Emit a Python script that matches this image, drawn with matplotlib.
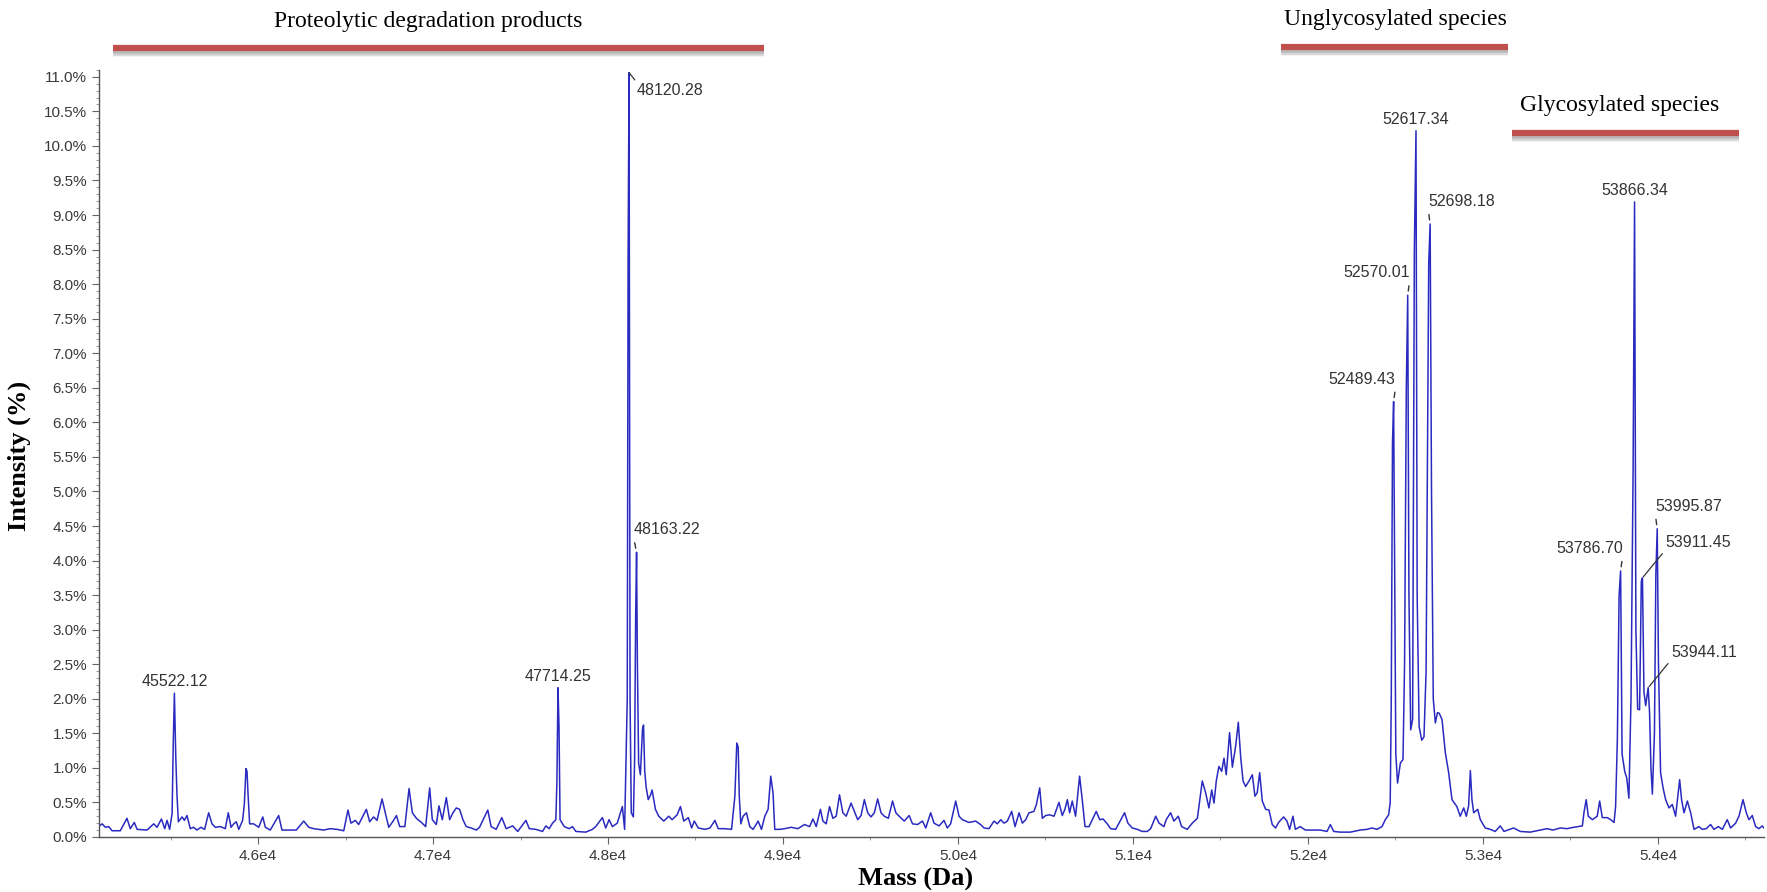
import numpy as np
import matplotlib
matplotlib.use("Agg")
import matplotlib.pyplot as plt
from matplotlib.lines import Line2D
from matplotlib.ticker import MultipleLocator, FuncFormatter

# deconvoluted spectrum, vertices (mass in Da, intensity in %)
mass_da = [
    45084, 45109, 45128, 45147, 45166, 45213, 45251, 45270, 45293, 45309, 45366, 45404,
    45423, 45448, 45467, 45480, 45495, 45509, 45516, 45522.12, 45530, 45537, 45545, 45566,
    45579, 45594, 45613, 45632, 45651, 45674, 45695, 45718, 45737, 45756, 45785, 45813,
    45830, 45846, 45861, 45876, 45890, 45912, 45922, 45931, 45937, 45943, 45952, 45975,
    46004, 46027, 46042, 46070, 46118, 46137, 46166, 46219, 46261, 46290, 46318, 46375,
    46413, 46451, 46490, 46514, 46531, 46556, 46575, 46619, 46638, 46661, 46680, 46709,
    46728, 46747, 46772, 46791, 46810, 46839, 46863, 46882, 46905, 46934, 46958, 46981,
    46996, 47019, 47034, 47053, 47076, 47095, 47114, 47133, 47152, 47171, 47190, 47218,
    47247, 47266, 47313, 47332, 47361, 47393, 47418, 47455, 47484, 47531, 47550, 47588,
    47626, 47645, 47664, 47683, 47702, 47708, 47714.25, 47720, 47726, 47750, 47778, 47797,
    47816, 47873, 47911, 47930, 47968, 47987, 48006, 48025, 48053, 48082, 48095, 48103,
    48110, 48115, 48120.28, 48126, 48133, 48145, 48152, 48158, 48163.22, 48168, 48175, 48185,
    48197, 48203, 48210, 48218, 48230, 48245, 48252, 48271, 48290, 48319, 48347, 48366,
    48395, 48414, 48433, 48459, 48478, 48493, 48516, 48554, 48583, 48611, 48630, 48668,
    48706, 48725, 48736, 48744, 48750, 48759, 48772, 48791, 48810, 48829, 48858, 48877,
    48896, 48915, 48930, 48943, 48953, 48981, 49009, 49047, 49085, 49123, 49152, 49171,
    49190, 49214, 49228, 49247, 49266, 49285, 49304, 49323, 49342, 49361, 49389, 49408,
    49427, 49446, 49465, 49484, 49503, 49522, 49541, 49560, 49579, 49602, 49626, 49645,
    49664, 49693, 49721, 49740, 49769, 49797, 49816, 49844, 49863, 49892, 49920, 49939,
    49958, 49987, 50006, 50025, 50063, 50101, 50129, 50149, 50177, 50206, 50225, 50244,
    50263, 50282, 50307, 50326, 50349, 50368, 50387, 50406, 50434, 50448, 50467, 50482,
    50501, 50524, 50549, 50577, 50596, 50611, 50625, 50638, 50653, 50672, 50695, 50710,
    50726, 50749, 50790, 50810, 50829, 50853, 50872, 50901, 50952, 50971, 50996, 51025,
    51053, 51082, 51101, 51130, 51149, 51177, 51190, 51215, 51234, 51259, 51278, 51310,
    51339, 51368, 51396, 51415, 51434, 51450, 51463, 51476, 51491, 51507, 51520, 51533,
    51552, 51568, 51587, 51602, 51615, 51629, 51644, 51663, 51682, 51697, 51710, 51724,
    51739, 51758, 51777, 51796, 51815, 51832, 51861, 51880, 51895, 51914, 51928, 51956,
    51985, 52023, 52070, 52109, 52128, 52147, 52185, 52242, 52299, 52337, 52366, 52394,
    52423, 52442, 52461, 52470, 52476, 52483, 52489.43, 52495, 52502, 52512, 52528, 52543,
    52552, 52562, 52570.01, 52577, 52587, 52598, 52608, 52617.34, 52624, 52635, 52650, 52663,
    52675, 52690, 52698.18, 52706, 52716, 52728, 52740, 52750, 52766, 52785, 52804, 52823,
    52851, 52870, 52890, 52905, 52918, 52928, 52937, 52947, 52970, 52985, 53013, 53042,
    53070, 53099, 53120, 53175, 53213, 53270, 53328, 53366, 53400, 53442, 53480, 53518,
    53545, 53568, 53577, 53590, 53602, 53625, 53653, 53667, 53682, 53710, 53730, 53749,
    53758, 53768, 53778, 53786.70, 53795, 53810, 53822, 53834, 53846, 53858, 53866.34, 53874,
    53884, 53895, 53905, 53911.45, 53920, 53930, 53944.11, 53952, 53960, 53968, 53980, 53988,
    53995.87, 54003, 54015, 54030, 54044, 54063, 54082, 54101, 54124, 54135, 54149, 54168,
    54187, 54206, 54234, 54253, 54276, 54301, 54320, 54345, 54368, 54396, 54415, 54444,
    54463, 54486, 54505, 54520, 54539, 54558, 54577, 54596, 54606,
]
intensity_pct = [
    0.14, 0.19, 0.14, 0.15, 0.09, 0.09, 0.27, 0.12, 0.21, 0.11, 0.10, 0.19,
    0.14, 0.26, 0.12, 0.24, 0.11, 0.34, 1.40, 2.08, 1.16, 0.60, 0.22, 0.29,
    0.24, 0.31, 0.12, 0.14, 0.10, 0.14, 0.11, 0.35, 0.19, 0.14, 0.15, 0.12,
    0.35, 0.14, 0.19, 0.22, 0.11, 0.24, 0.48, 0.99, 0.95, 0.62, 0.19, 0.19,
    0.14, 0.29, 0.14, 0.10, 0.31, 0.10, 0.10, 0.10, 0.23, 0.14, 0.12, 0.10,
    0.12, 0.11, 0.09, 0.39, 0.20, 0.24, 0.18, 0.40, 0.22, 0.29, 0.24, 0.55,
    0.34, 0.14, 0.23, 0.31, 0.15, 0.15, 0.70, 0.35, 0.27, 0.21, 0.15, 0.71,
    0.25, 0.18, 0.45, 0.25, 0.57, 0.25, 0.35, 0.42, 0.40, 0.25, 0.15, 0.13,
    0.10, 0.14, 0.39, 0.15, 0.11, 0.28, 0.12, 0.16, 0.08, 0.24, 0.12, 0.11,
    0.08, 0.16, 0.12, 0.20, 0.25, 0.80, 2.16, 1.60, 0.25, 0.15, 0.12, 0.15,
    0.08, 0.07, 0.11, 0.15, 0.28, 0.13, 0.25, 0.15, 0.20, 0.44, 0.11, 1.16,
    2.00, 8.45, 11.06, 2.00, 0.35, 0.29, 1.10, 3.20, 4.12, 2.50, 1.07, 0.90,
    1.55, 1.62, 0.95, 0.72, 0.54, 0.62, 0.68, 0.40, 0.30, 0.23, 0.30, 0.25,
    0.32, 0.44, 0.23, 0.28, 0.13, 0.23, 0.13, 0.11, 0.13, 0.24, 0.12, 0.12,
    0.11, 0.59, 1.36, 1.30, 0.60, 0.19, 0.30, 0.35, 0.15, 0.11, 0.23, 0.11,
    0.30, 0.40, 0.88, 0.64, 0.11, 0.11, 0.12, 0.14, 0.12, 0.18, 0.15, 0.26,
    0.15, 0.40, 0.23, 0.19, 0.44, 0.27, 0.30, 0.61, 0.35, 0.30, 0.49, 0.37,
    0.25, 0.31, 0.54, 0.35, 0.29, 0.35, 0.55, 0.35, 0.30, 0.27, 0.52, 0.35,
    0.30, 0.23, 0.31, 0.19, 0.18, 0.23, 0.13, 0.35, 0.20, 0.16, 0.24, 0.13,
    0.19, 0.52, 0.30, 0.25, 0.21, 0.23, 0.18, 0.13, 0.12, 0.23, 0.19, 0.25,
    0.20, 0.23, 0.37, 0.15, 0.35, 0.20, 0.25, 0.35, 0.37, 0.47, 0.71, 0.27,
    0.31, 0.32, 0.30, 0.50, 0.31, 0.40, 0.54, 0.35, 0.52, 0.30, 0.88, 0.54,
    0.15, 0.15, 0.37, 0.25, 0.26, 0.19, 0.12, 0.11, 0.35, 0.20, 0.13, 0.11,
    0.08, 0.08, 0.12, 0.30, 0.20, 0.15, 0.25, 0.35, 0.23, 0.30, 0.15, 0.11,
    0.20, 0.27, 0.81, 0.64, 0.42, 0.68, 0.49, 0.81, 1.02, 0.95, 1.14, 0.90,
    1.51, 1.01, 1.32, 1.66, 1.17, 0.81, 0.73, 0.81, 0.90, 0.59, 0.64, 0.93,
    0.52, 0.40, 0.39, 0.18, 0.13, 0.21, 0.29, 0.23, 0.11, 0.30, 0.11, 0.15,
    0.10, 0.10, 0.10, 0.08, 0.18, 0.08, 0.07, 0.07, 0.10, 0.11, 0.13, 0.11,
    0.15, 0.25, 0.32, 0.50, 1.98, 5.70, 6.30, 4.00, 1.20, 0.78, 1.07, 1.12,
    2.50, 6.50, 7.84, 3.50, 1.55, 1.70, 8.50, 10.22, 3.50, 1.60, 1.40, 1.45,
    2.40, 8.30, 8.87, 5.00, 2.00, 1.65, 1.80, 1.79, 1.70, 1.22, 0.93, 0.54,
    0.44, 0.30, 0.42, 0.30, 0.45, 0.96, 0.54, 0.35, 0.40, 0.25, 0.13, 0.11,
    0.08, 0.16, 0.08, 0.13, 0.08, 0.07, 0.10, 0.12, 0.10, 0.13, 0.12, 0.14,
    0.15, 0.16, 0.35, 0.54, 0.30, 0.25, 0.30, 0.52, 0.28, 0.28, 0.25, 0.21,
    0.44, 1.41, 3.50, 3.85, 1.20, 0.95, 0.85, 0.56, 2.00, 5.30, 9.19, 3.00,
    1.85, 1.84, 3.70, 3.75, 2.10, 1.90, 2.16, 1.80, 1.00, 0.62, 1.50, 3.80,
    4.46, 2.50, 0.93, 0.70, 0.54, 0.42, 0.47, 0.30, 0.83, 0.54, 0.35, 0.52,
    0.35, 0.11, 0.15, 0.11, 0.12, 0.18, 0.11, 0.15, 0.11, 0.25, 0.13, 0.20,
    0.30, 0.54, 0.35, 0.25, 0.31, 0.15, 0.12, 0.16, 0.13,
]

# labelled peaks
peak_masses = [45522.12, 47714.25, 48120.28, 48163.22, 52489.43, 52570.01, 52617.34,
               52698.18, 53786.70, 53866.34, 53911.45, 53944.11, 53995.87]

# region headers
regions = ["Proteolytic degradation products", "Unglycosylated species", "Glycosylated species"]

blue = "#2a2ac0"
red = "#c0504d"
serif = ["Liberation Serif", "DejaVu Serif"]
sans = ["Liberation Sans", "DejaVu Sans"]

fig = plt.figure(figsize=(17.67, 8.92), dpi=100)
ax = fig.add_axes([0.0560, 0.0617, 0.9423, 0.8599])
ax.plot(mass_da, intensity_pct, color=blue, lw=1.1)

ax.set_xlim(45091, 54606)
ax.set_ylim(0, 11.1)
for s in ["top", "right"]:
    ax.spines[s].set_visible(False)
for s in ["left", "bottom"]:
    ax.spines[s].set_color("#555555")
    ax.spines[s].set_linewidth(1.0)

ax.xaxis.set_major_locator(MultipleLocator(1000))
ax.xaxis.set_minor_locator(MultipleLocator(500))
ax.xaxis.set_major_formatter(FuncFormatter(lambda v, p: f"{v / 1e4:.1f}e4"))
ax.yaxis.set_major_locator(MultipleLocator(0.5))
ax.yaxis.set_minor_locator(MultipleLocator(0.1))
ax.yaxis.set_major_formatter(FuncFormatter(lambda v, p: f"{v:.1f}%"))
ax.tick_params(which="major", length=5, color="#666666", labelcolor="#3a3a3a", labelsize=11)
ax.tick_params(which="minor", length=2.5, color="#888888")
for lab in ax.get_xticklabels() + ax.get_yticklabels():
    lab.set_family(sans)

# peak labels: (style, dx px, dy px)
layout = {
    45522.12: ("c", 0, 4), 47714.25: ("c", 0, 4), 52617.34: ("c", 0, 4), 53866.34: ("c", 0, 4),
    48120.28: ("tl", 8, -10), 48163.22: ("l", -3, 15), 52698.18: ("l", -2, 15),
    53995.87: ("l", -2, 15), 52489.43: ("r", 2, 15), 52570.01: ("r", 2, 15),
    53786.70: ("r", 2, 15), 53911.45: ("d", 23, 28), 53944.11: ("d", 23, 28),
}
for m in peak_masses:
    h = np.interp(m, mass_da, intensity_pct)
    style, dx, dy = layout[m]
    kw = dict(xy=(m, h), xytext=(dx, dy), textcoords="offset pixels", fontsize=11.5,
              color="#333333", family=sans)
    if style == "c":
        ax.annotate(f"{m:.2f}", ha="center", va="bottom", **kw)
    elif style == "l":
        ax.annotate(f"{m:.2f}", ha="left", va="bottom",
                    arrowprops=dict(arrowstyle="-", color="#333333", lw=1.0,
                                    relpos=(0.0, 0.0), shrinkA=2, shrinkB=3), **kw)
    elif style == "r":
        ax.annotate(f"{m:.2f}", ha="right", va="bottom",
                    arrowprops=dict(arrowstyle="-", color="#333333", lw=1.0,
                                    relpos=(1.0, 0.0), shrinkA=2, shrinkB=3), **kw)
    elif style == "tl":
        ax.annotate(f"{m:.2f}", ha="left", va="top",
                    arrowprops=dict(arrowstyle="-", color="#333333", lw=0.9,
                                    relpos=(0.0, 1.0), shrinkA=0, shrinkB=0), **kw)
    else:
        ax.annotate(f"{m:.2f}", ha="left", va="bottom",
                    arrowprops=dict(arrowstyle="-", color="#333333", lw=0.9,
                                    relpos=(0.0, 0.0), shrinkA=1, shrinkB=1), **kw)

# axis titles
fig.text(0.518, 1 - 879 / 892, "Mass (Da)", family=serif, weight="bold", fontsize=19,
         ha="center", va="center")
fig.text(0.011, 0.489, "Intensity (%)", family=serif, weight="bold", fontsize=19,
         ha="center", va="center", rotation=90)

# region headers with red bars (pixel positions of the figure)
W, H = 1767.0, 892.0
headers = [(428, 22, 113, 764, 48), (1395, 20, 1281, 1508, 47), (1620, 106, 1512, 1739, 133)]
for name, (tx, ty, x0, x1, yb) in zip(regions, headers):
    fig.text(tx / W, 1 - ty / H, name, family=serif, fontsize=17, ha="center", va="center")
    for off, a in [(6, 0.15), (4.5, 0.3), (3, 0.45)]:
        fig.add_artist(Line2D([x0 / W, x1 / W], [1 - (yb + off) / H] * 2,
                              transform=fig.transFigure, color="#999999", lw=4, alpha=a,
                              solid_capstyle="butt"))
    fig.add_artist(Line2D([x0 / W, x1 / W], [1 - yb / H] * 2, transform=fig.transFigure,
                          color=red, lw=4.5, solid_capstyle="butt"))

fig.savefig("out.png", dpi=100)
